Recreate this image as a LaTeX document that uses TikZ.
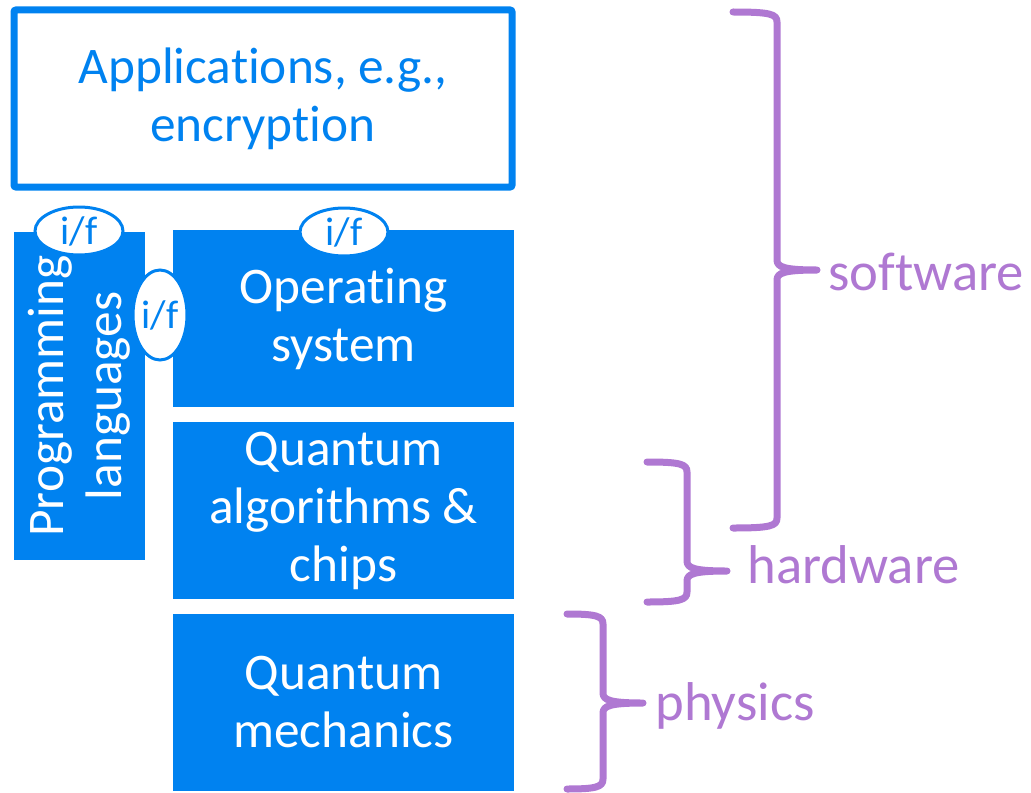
\documentclass[tikz,border=0pt]{standalone}
\usepackage{fontspec}
\setmainfont[Ligatures={NoCommon}]{Carlito}
\usetikzlibrary{shapes.geometric}

\definecolor{stackblue}{HTML}{0082F0}
\definecolor{bracepurple}{HTML}{AF78D2}

\tikzset{every picture/.style={line width=0.75pt}}
\tikzset{
  layer/.style={fill=stackblue, text=white, inner sep=0pt, align=center, font=\fontsize{38.5}{43.5}\selectfont},
  ifbubble/.style={ellipse, draw=stackblue, fill=white, line width=2.25pt, inner sep=0pt, text=stackblue, font=\fontsize{30}{33}\selectfont},
  bracket/.style={draw=bracepurple, line width=5.25pt, line cap=round, line join=round},
  bracelabel/.style={anchor=base west, inner sep=0pt, text=bracepurple, font=\fontsize{41}{44}\selectfont}
}

\begin{document}
\begin{tikzpicture}[x=0.75pt,y=0.75pt,yscale=-1,xscale=1]
\useasboundingbox (0,0) rectangle (1031,792);

% Applications box
\node (apps) [draw=stackblue, line width=5.25pt, rounded corners=1.5pt, text=stackblue, align=center, inner sep=0pt, minimum width=373.5pt, minimum height=132.75pt, font=\fontsize{38.5}{43.5}\selectfont] at (263,98.5) {Applications, e.g.,\\encryption};

% Stack layers
\node (proglang) [layer, rotate=90, minimum width=246pt, minimum height=98.25pt] at (79.5,396) {Programming\\languages};
\node (os) [layer, minimum width=255.75pt, minimum height=132.75pt] at (343.5,318.5) {Operating\\system};
\node (qalgo) [layer, minimum width=255.75pt, minimum height=132.75pt] at (343.5,510.5) {Quantum\\algorithms \&\\chips};
\node (qmech) [layer, minimum width=255.75pt, minimum height=132.75pt] at (343.5,702.5) {Quantum\\mechanics};

% Interfaces
\node (iflang) [ifbubble, minimum width=66pt, minimum height=36pt] at (79,231) {i/f};
\node (ifos) [ifbubble, minimum width=66pt, minimum height=36pt] at (344,232) {i/f};
\node (ifside) [ifbubble, minimum width=40.5pt, minimum height=67.5pt] at (160,315) {i/f};

% Brace software
\draw [bracket] (733,12) .. controls (770,12) and (777,14) .. (777,22) -- (777,260) .. controls (777,267) and (784,270) .. (817,270) .. controls (784,270) and (777,273) .. (777,280) -- (777,518) .. controls (777,526) and (770,528) .. (733,528);
\coordinate (swtip) at (817,270);
% Brace hardware
\draw [bracket] (647,462) .. controls (680,462) and (687,464) .. (687,472) -- (687,561) .. controls (687,568) and (694,571) .. (727,571) .. controls (694,571) and (687,574) .. (687,581) -- (687,592) .. controls (687,600) and (680,602) .. (647,602);
\coordinate (hwtip) at (727,571);
% Brace physics
\draw [bracket] (567,614) .. controls (596,614) and (603,616) .. (603,624) -- (603,693) .. controls (603,700) and (610,703) .. (643,703) .. controls (610,703) and (603,706) .. (603,713) -- (603,779) .. controls (603,787) and (596,789) .. (567,789);
\coordinate (phtip) at (643,703);

% Brace labels
\node (swlabel) [bracelabel] at (828,290) {software};
\node (hwlabel) [bracelabel] at (747,583) {hardware};
\node (phlabel) [bracelabel] at (655,720) {physics};

\end{tikzpicture}
\end{document}
